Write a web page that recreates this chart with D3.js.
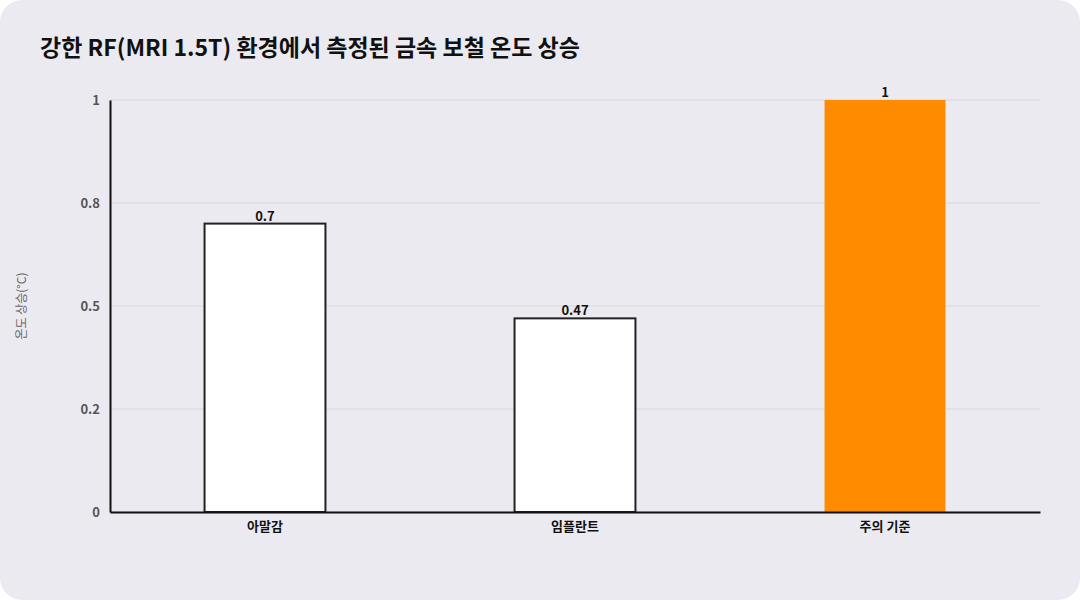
<!DOCTYPE html>
<html><head><meta charset="utf-8">
<script src="https://cdn.jsdelivr.net/npm/d3@7"></script>
<style>
body{margin:0;background:#fff;font-family:"Noto Sans CJK KR","Noto Sans",sans-serif;}
</style></head>
<body><div id="chart"></div>
<script>
// --- Data ---
const categories = ["아말감", "임플란트", "주의 기준"];
const values = [0.7, 0.47, 1];
const fills = ["#ffffff", "#ffffff", "#ff8c00"];
const strokes = ["#222222", "#222222", "none"];
const yTicks = [0, 0.25, 0.5, 0.75, 1];

const W = 1080, H = 600;
const m = { left: 110, right: 40, top: 100, bottom: 88 };

const svg = d3.select("#chart").append("svg")
  .attr("width", W).attr("height", H);

svg.append("rect").attr("x", 0).attr("y", 0).attr("width", W).attr("height", H)
  .attr("rx", 22).attr("fill", "#ebeaf0");

svg.append("text").attr("x", 40).attr("y", 56)
  .attr("font-size", 23).attr("font-weight", 700).attr("fill", "#111")
  .text("강한 RF(MRI 1.5T) 환경에서 측정된 금속 보철 온도 상승");

const x = d3.scaleBand().domain(categories)
  .range([m.left, W - m.right]).paddingInner(0.61).paddingOuter(0.305);
const y = d3.scaleLinear().domain([0, 1]).range([H - m.bottom, m.top]);

// grid
svg.selectAll(".grid").data(yTicks).enter().append("line")
  .attr("x1", m.left).attr("x2", W - m.right)
  .attr("y1", d => y(d)).attr("y2", d => y(d))
  .attr("stroke", "#d8d7de").attr("stroke-width", 1);

// y axis
const yAxis = svg.append("g").attr("transform", `translate(${m.left},0)`)
  .call(d3.axisLeft(y).tickValues(yTicks).tickFormat(d => d3.format(".1~f")(Math.round(d * 10 + 1e-9 * (d === 0.25 ? -1 : 1)) / 10)).tickSize(0).tickPadding(10));
yAxis.select(".domain").attr("stroke", "#111").attr("stroke-width", 2);
yAxis.selectAll("text").attr("font-size", 13).attr("font-weight", 700).attr("fill", "#555")
  .attr("font-family", "'Noto Sans CJK KR',sans-serif");

// bars
const bars = categories.map((c, i) => ({ c, v: values[i], f: fills[i], s: strokes[i] }));
svg.selectAll(".bar").data(bars).enter().append("rect")
  .attr("x", d => x(d.c)).attr("width", x.bandwidth())
  .attr("y", d => y(d.v)).attr("height", d => y(0) - y(d.v))
  .attr("fill", d => d.f).attr("stroke", d => d.s).attr("stroke-width", 2);

svg.selectAll(".val").data(bars).enter().append("text")
  .attr("x", d => x(d.c) + x.bandwidth() / 2).attr("y", d => y(d.v) - 3)
  .attr("text-anchor", "middle").attr("font-size", 13).attr("font-weight", 700).attr("fill", "#111")
  .text(d => d.v);

// x axis
const xAxis = svg.append("g").attr("transform", `translate(0,${y(0)})`)
  .call(d3.axisBottom(x).tickSize(0).tickPadding(10));
xAxis.select(".domain").attr("stroke", "#111").attr("stroke-width", 2);
xAxis.selectAll("text").attr("font-size", 13).attr("font-weight", 700).attr("fill", "#111")
  .attr("font-family", "'Noto Sans CJK KR',sans-serif");

svg.append("text").attr("transform", `translate(26,${(m.top + H - m.bottom) / 2}) rotate(-90)`)
  .attr("text-anchor", "middle").attr("font-size", 12).attr("fill", "#666")
  .text("온도 상승(°C)");
</script></body></html>
